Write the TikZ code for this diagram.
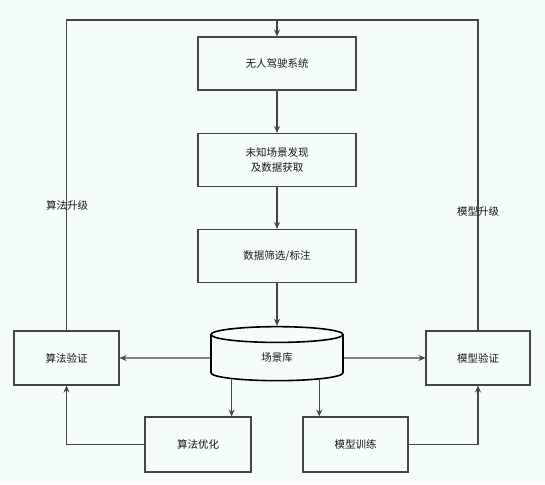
\documentclass[tikz,border=0pt]{standalone}
\usepackage{fontspec}
\newfontfamily\cjk{Noto Sans CJK SC}
\usetikzlibrary{arrows.meta,shapes.geometric}
\definecolor{fond}{RGB}{245,252,252}
\definecolor{trait}{RGB}{70,70,70}

\begin{document}
\begin{tikzpicture}[x=1pt,y=-1pt]
	\tikzset{boite/.style={rectangle, draw=trait, line width=1.1pt, minimum width=158pt, minimum height=53pt, inner sep=0pt, font=\cjk\fontsize{10.5}{15}\selectfont, text=black!90, align=center},
	petite/.style={boite, minimum width=105pt, minimum height=54pt},
	fleche/.style={draw=trait, line width=1.1pt, -{Stealth[length=7pt,width=6pt]}},
	ligne/.style={draw=trait, line width=1.1pt},
	etiquette/.style={font=\cjk\fontsize{10.5}{13}\selectfont, text=black!90}};

	\fill[fond] (0,0) rectangle (545,484);

	\node[boite] (systeme) at (277,63.5) {无人驾驶系统};
	\node[boite] (decouverte) at (277,160) {未知场景发现\\及数据获取};
	\node[boite] (filtrage) at (277,256) {数据筛选/标注};
	\node[cylinder, shape border rotate=90, draw=black, line width=1.6pt, aspect=0.5, minimum width=132pt, minimum height=54pt, inner sep=0pt, font=\cjk\fontsize{10.5}{13}\selectfont, text=black!90] (bibli) at (277,358) {场景库};

	\node[petite] (algoverif) at (66.5,358) {算法验证};
	\node[petite, minimum width=104pt] (modeleverif) at (478,358) {模型验证};
	\node[petite, minimum width=106pt, minimum height=55pt] (algooptim) at (198,444.5) {算法优化};
	\node[petite, minimum height=55pt] (entrainement) at (355.5,444.5) {模型训练};

	\coordinate (haut) at (277,20);
	\draw[ligne] (algoverif.north) |- (haut) -| (modeleverif.north);
	\node[etiquette] (upalgo) at (67,205) {算法升级};
	\node[etiquette] (upmodele) at (478,212) {模型升级};

	\draw[fleche] (haut) -- (systeme);
	\draw[fleche] (systeme) -- (decouverte);
	\draw[fleche] (decouverte) -- (filtrage);
	\draw[fleche] (filtrage) -- (bibli);

	\draw[fleche] (bibli.west) -- (algoverif.east);
	\draw[fleche] (bibli.east) -- (modeleverif.west);
	\draw[fleche] (bibli.-155) -- (bibli.-155 |- algooptim.north);
	\draw[fleche] (bibli.-27) -- (bibli.-27 |- entrainement.north);

	\draw[fleche] (algooptim) -| (algoverif);
	\draw[fleche] (entrainement) -| (modeleverif);
\end{tikzpicture}
\end{document}
